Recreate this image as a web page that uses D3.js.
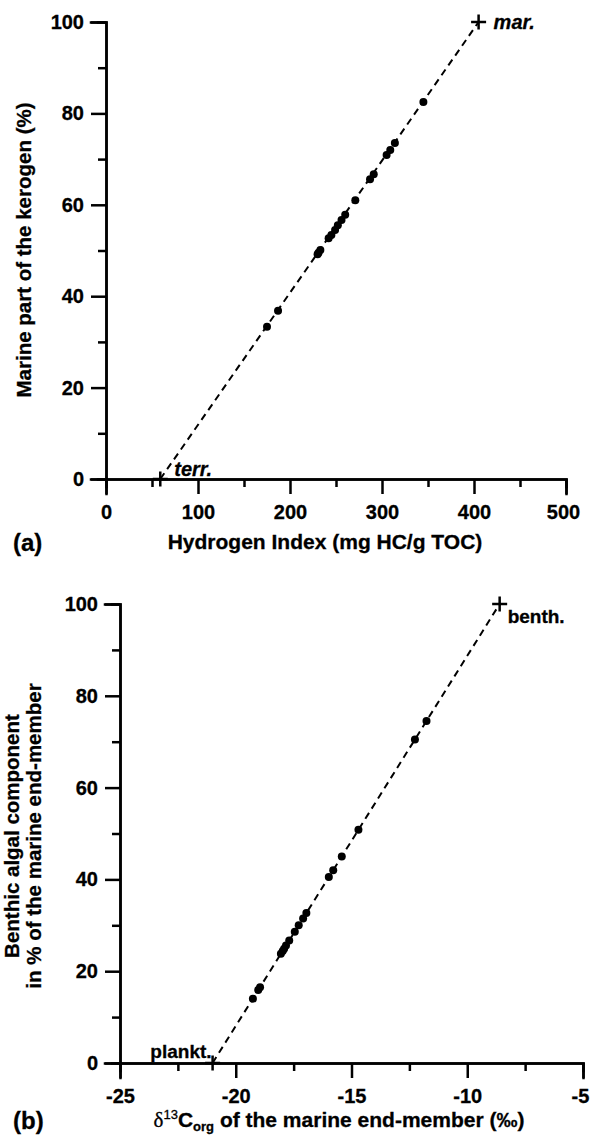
<!DOCTYPE html>
<html>
<head>
<meta charset="utf-8">
<script src="https://cdn.jsdelivr.net/npm/d3@7"></script>
<style>
  body { margin: 0; background: #fff; }
  svg { display: block; font-family: "Liberation Sans", Arial, sans-serif; font-weight: bold; }
  svg text { stroke: #000; stroke-width: 0.3; }
  .axis path, .axis line { stroke: #000; stroke-width: 2.5; }
  .axis text { font-size: 20px; font-weight: bold; fill: #000; font-family: "Liberation Sans", Arial, sans-serif; }
</style>
</head>
<body>
<svg id="chart" width="590" height="1137"></svg>
<script>
// panel (a): hydrogen index vs marine fraction
let hiValues     = [345, 314, 309, 305, 291, 287, 271, 260, 256, 252, 249, 245, 242, 233, 231, 230, 187, 175];
let marineValues = [82.5, 73.5, 72, 70.9, 66.7, 65.6, 61, 57.8, 56.7, 55.5, 54.5, 53.4, 52.7, 50.1, 49.5, 49.2, 36.8, 33.3];
let endTerr = [59, 0], endMar = [405, 100];

// panel (b): d13C of marine end-member vs benthic fraction
let d13cValues    = [-19.26, -19.03, -18.95, -18.05, -17.97, -17.91, -17.83, -17.69, -17.45, -17.28, -17.09, -16.95, -15.98, -15.79, -15.42, -14.70, -12.26, -11.76];
let benthicValues = [14.0, 15.9, 16.5, 23.8, 24.4, 24.9, 25.6, 26.7, 28.6, 30.0, 31.5, 32.7, 40.5, 42.0, 45.0, 50.8, 70.5, 74.5];
let endPlankt = [-21, 0], endBenth = [-8.6, 100];

let xTicksA = [0, 100, 200, 300, 400, 500];
let yTicks = [0, 20, 40, 60, 80, 100];
let xTicksB = [-25, -20, -15, -10, -5];

let svg = d3.select("#chart");

let xA = d3.scaleLinear().domain([0, 500]).range([106, 566]);
let yA = d3.scaleLinear().domain([0, 100]).range([479, 22]);
let xB = d3.scaleLinear().domain([-25, -5]).range([120, 583]);
let yB = d3.scaleLinear().domain([0, 100]).range([1063, 604]);

function drawAxes(x, y, xTicks, xMinor, yMinor) {
  let y0 = y(0), x0 = x.domain()[0];
  // minor ticks first
  svg.append("g").attr("class", "axis").attr("transform", `translate(0,${y0})`)
    .call(d3.axisBottom(x).tickValues(xMinor).tickSize(8).tickFormat(""));
  svg.append("g").attr("class", "axis").attr("transform", `translate(${x(x0)},0)`)
    .call(d3.axisLeft(y).tickValues(yMinor).tickSize(8).tickFormat(""));
  let gx = svg.append("g").attr("class", "axis").attr("transform", `translate(0,${y0})`)
    .call(d3.axisBottom(x).tickValues(xTicks).tickSize(15).tickPadding(11));
  gx.selectAll("text").text(d => d < 0 ? "-" + Math.abs(d) : d);
  // keep the last label inside the page
  gx.selectAll(".tick:last-of-type text").attr("dx", -3);
  svg.append("g").attr("class", "axis").attr("transform", `translate(${x(x0)},0)`)
    .call(d3.axisLeft(y).tickValues(yTicks).tickSize(15).tickPadding(7));
  svg.selectAll(".axis path").attr("stroke-linecap", "square");
}

function drawMix(x, y, a, b, xs, ys) {
  svg.append("line")
    .attr("x1", x(a[0])).attr("y1", y(a[1]))
    .attr("x2", x(b[0])).attr("y2", y(b[1]))
    .attr("stroke", "#000").attr("stroke-width", 2).attr("stroke-dasharray", "7,5");
  svg.append("g").selectAll("circle")
    .data(xs.map((v, i) => [v, ys[i]]))
    .enter().append("circle")
    .attr("cx", d => x(d[0])).attr("cy", d => y(d[1]))
    .attr("r", 4).attr("fill", "#000");
  [a, b].forEach(p => {
    svg.append("path")
      .attr("d", `M${x(p[0]) - 7.5},${y(p[1])}h15M${x(p[0])},${y(p[1]) - 7.5}v15`)
      .attr("stroke", "#000").attr("stroke-width", 2.5);
  });
}

// ---- panel (a)
drawAxes(xA, yA, xTicksA, d3.range(50, 500, 100), d3.range(10, 100, 20));
drawMix(xA, yA, endTerr, endMar, hiValues, marineValues);

svg.append("text").attr("x", xA(endMar[0]) + 15).attr("y", yA(endMar[1]) + 7)
  .attr("font-size", 20).attr("font-style", "italic").text("mar.");
svg.append("text").attr("x", xA(endTerr[0]) + 14).attr("y", yA(0) - 3)
  .attr("font-size", 20).attr("font-style", "italic").text("terr.");

svg.append("text").attr("transform", "translate(31,250) rotate(-90)")
  .attr("text-anchor", "middle").attr("font-size", 20.5).text("Marine part of the kerogen (%)");
svg.append("text").attr("x", 325).attr("y", 549).attr("text-anchor", "middle")
  .attr("font-size", 21).text("Hydrogen Index (mg HC/g TOC)");
svg.append("text").attr("x", 13).attr("y", 551).attr("font-size", 24).text("(a)");

// ---- panel (b)
drawAxes(xB, yB, xTicksB, d3.range(-22.5, -5, 5), d3.range(10, 100, 20));
drawMix(xB, yB, endPlankt, endBenth, d13cValues, benthicValues);

svg.append("text").attr("x", xB(endBenth[0]) + 8).attr("y", yB(100) + 19)
  .attr("font-size", 19).text("benth.");
svg.append("text").attr("x", xB(endPlankt[0]) - 1).attr("y", yB(0) - 5)
  .attr("text-anchor", "end").attr("font-size", 19).text("plankt.");

let yTitle = svg.append("text").attr("transform", "translate(0,836) rotate(-90)")
  .attr("text-anchor", "middle").attr("font-size", 20.5);
yTitle.append("tspan").attr("x", 0).attr("y", 19).text("Benthic algal component");
yTitle.append("tspan").attr("x", 0).attr("y", 41).text("in % of the marine end-member");

let xTitle = svg.append("text").attr("x", 339).attr("y", 1127).attr("text-anchor", "middle").attr("font-size", 21);
xTitle.append("tspan").attr("font-family", "'Liberation Serif', serif").attr("font-weight", "normal").text("\u03B4");
xTitle.append("tspan").attr("font-size", 13).attr("font-weight", "normal").attr("dy", -8).text("13");
xTitle.append("tspan").attr("dy", 8).text("C");
xTitle.append("tspan").attr("font-size", 13).attr("dy", 4).text("org");
xTitle.append("tspan").attr("dy", -4).text(" of the marine end-member (\u2030)");
svg.append("text").attr("x", 13).attr("y", 1129).attr("font-size", 24).text("(b)");
</script>
</body>
</html>
